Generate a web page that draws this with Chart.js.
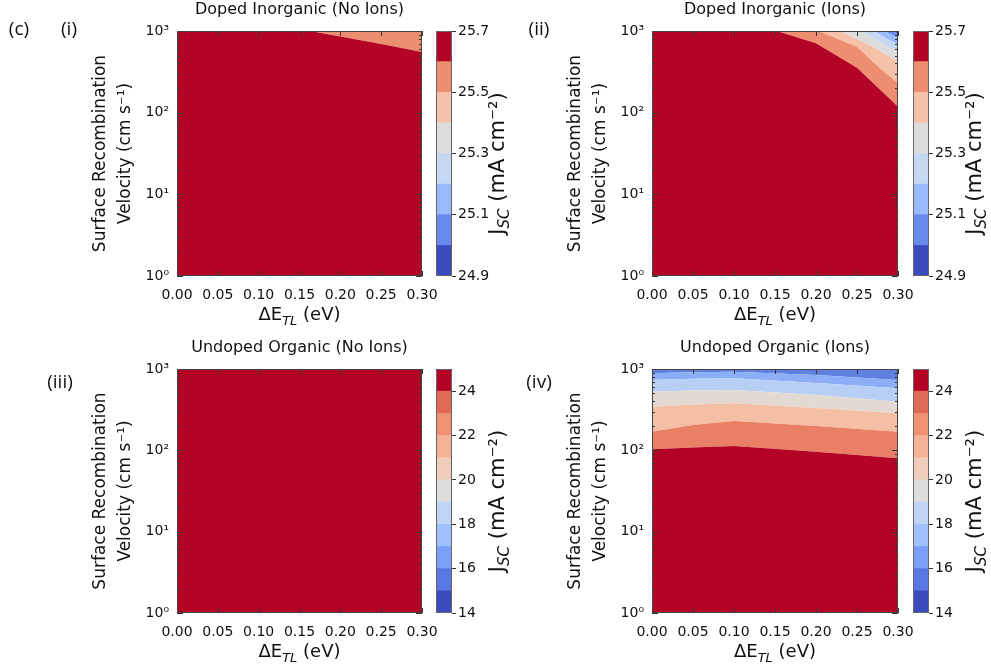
<!DOCTYPE html>
<html>
<head>
<meta charset="utf-8">
<script src="https://cdn.jsdelivr.net/npm/chart.js@4.4.0/dist/chart.umd.min.js"></script>
<style>
html, body { margin: 0; padding: 0; background: #fff; overflow: hidden; }
#figure { position: relative; width: 991px; height: 670px; background: #fff; }
#figure canvas { position: absolute; }
</style>
</head>
<body>
<div id="figure"></div>
<script>
// axes: Delta E_TL (eV) against surface recombination velocity (cm/s, log)
var xTicks = [0, 0.05, 0.10, 0.15, 0.20, 0.25, 0.30];
var xTickLabels = ['0.00', '0.05', '0.10', '0.15', '0.20', '0.25', '0.30'];
var yMajorTicks = [1, 10, 100, 1000];
var yTickLabels = ['10\u2070', '10\u00b9', '10\u00b2', '10\u00b3'];
var yMinorTicks = [2, 3, 4, 5, 6, 7, 8, 9, 20, 30, 40, 50, 60, 70, 80, 90, 200, 300, 400, 500, 600, 700, 800, 900];

// colour bar levels, Jsc in mA cm-2 (bottom to top)
var levelsDoped = [24.9, 25.0, 25.1, 25.2, 25.3, 25.4, 25.5, 25.6, 25.7];
var cbTicksDoped = [24.9, 25.1, 25.3, 25.5, 25.7];
var cbLabelsDoped = ['24.9', '25.1', '25.3', '25.5', '25.7'];
var colorsDoped = ['#3B4CC0', '#6889EE', '#9ABAFF', '#C6D7F2', '#DDDCDC', '#F5C2A9', '#EE8E70', '#B40426'];

var levelsUndoped = [14, 15, 16, 17, 18, 19, 20, 21, 22, 23, 24, 25];
var cbTicksUndoped = [14, 16, 18, 20, 22, 24];
var cbLabelsUndoped = ['14', '16', '18', '20', '22', '24'];
var colorsUndoped = ['#3B4CC0', '#5978E3', '#7B9FF9', '#9FBFFF', '#C0D4F5', '#DDDDDD', '#F0CDBB', '#F5B296', '#F0916F', '#E06A55', '#B40426'];

// contour boundaries as [dE, S] pairs, bottom to top; band k lies between boundary k and k+1
var bottomEdge = [[0, 1], [0.30, 1]];
var topEdge = [[0, 1000], [0.30, 1000]];

var dopedNoIonsEdges = [
	bottomEdge,
	[[0, 1000], [0.163, 1000], [0.20, 857], [0.25, 693], [0.30, 553]],
	topEdge
];
var dopedNoIonsBands = ['#B40426', '#EE8E70'];

var dopedIonsEdges = [
	bottomEdge,
	[[0, 1000], [0.152, 1000], [0.20, 706], [0.25, 355], [0.30, 118]],
	[[0, 1000], [0.203, 1000], [0.25, 643], [0.276, 366], [0.30, 229]],
	[[0, 1000], [0.229, 1000], [0.27, 643], [0.30, 421]],
	[[0, 1000], [0.254, 1000], [0.30, 558]],
	[[0, 1000], [0.270, 1000], [0.30, 674]],
	[[0, 1000], [0.284, 1000], [0.30, 813]],
	[[0, 1000], [0.294, 1000], [0.30, 919]],
	topEdge
];
var dopedIonsBands = ['#B40426', '#EE8E70', '#F5C2A9', '#DDDCDC', '#C6D7F2', '#9ABAFF', '#6889EE', '#3B4CC0'];

var undopedNoIonsEdges = [bottomEdge, topEdge];
var undopedNoIonsBands = ['#B40426'];

var undopedIonsEdges = [
	bottomEdge,
	[[0, 103], [0.05, 108], [0.10, 113], [0.20, 96], [0.30, 80]],
	[[0, 169], [0.05, 205], [0.10, 230], [0.20, 199], [0.30, 169]],
	[[0, 344], [0.05, 365], [0.10, 379], [0.20, 331], [0.30, 285]],
	[[0, 526], [0.05, 545], [0.10, 552], [0.20, 479], [0.30, 396]],
	[[0, 733], [0.05, 760], [0.10, 769], [0.20, 673], [0.30, 579]],
	[[0, 885], [0.05, 915], [0.10, 927], [0.20, 844], [0.30, 733]],
	topEdge
];
var undopedIonsBands = ['#B40426', '#E97F65', '#F4BFA5', '#E2D9D3', '#B8CFF5', '#8DAEF6', '#6080E0'];

Chart.defaults.font.family = "'DejaVu Sans', sans-serif";
Chart.defaults.color = '#111';

var FONT = "'DejaVu Sans', sans-serif";
var figure = document.getElementById('figure');

function addCanvas(left, top, width, height) {
	var c = document.createElement('canvas');
	c.width = width;
	c.height = height;
	c.style.left = left + 'px';
	c.style.top = top + 'px';
	c.style.width = width + 'px';
	c.style.height = height + 'px';
	figure.appendChild(c);
	return c;
}

function partFont(p, size) {
	return (p.italic ? 'italic ' : '') + (p.sub ? Math.round(size * 0.7) : size) + 'px ' + FONT;
}

// draws text made of parts (some subscript), centred on x, baseline at y
function drawRichText(ctx, parts, x, y, size) {
	var total = 0;
	ctx.textAlign = 'left';
	ctx.textBaseline = 'alphabetic';
	parts.forEach(function(p) {
		ctx.font = partFont(p, size);
		p.w = ctx.measureText(p.t).width;
		total += p.w;
	});
	var cx = x - total / 2;
	parts.forEach(function(p) {
		ctx.font = partFont(p, size);
		ctx.fillText(p.t, cx, y + (p.sub ? size * 0.25 : 0));
		cx += p.w;
	});
}

var plotDecor = {
	id: 'plotDecor',
	afterDatasetsDraw: function(chart, args, opts) {
		var ctx = chart.ctx, a = chart.chartArea;
		var xs = chart.scales.x, ys = chart.scales.y;
		
		ctx.save();
		ctx.strokeStyle = '#333';
		ctx.lineWidth = 1;
		ctx.beginPath();
		xTicks.forEach(function(v) {
			var px = Math.round(xs.getPixelForValue(v)) + 0.5;
			ctx.moveTo(px, a.bottom);
			ctx.lineTo(px, a.bottom - 5);
			ctx.moveTo(px, a.top);
			ctx.lineTo(px, a.top + 5);
		});
		yMajorTicks.concat(yMinorTicks).forEach(function(v) {
			var len = yMajorTicks.indexOf(v) >= 0 ? 6 : 3;
			var py = Math.round(ys.getPixelForValue(v)) + 0.5;
			ctx.moveTo(a.left, py);
			ctx.lineTo(a.left + len, py);
			ctx.moveTo(a.right, py);
			ctx.lineTo(a.right - len, py);
		});
		ctx.stroke();
		ctx.strokeStyle = '#444';
		ctx.strokeRect(a.left + 0.5, a.top + 0.5, a.width - 1, a.height - 1);
		
		ctx.fillStyle = '#111';
		
		// panel title
		ctx.font = '16px ' + FONT;
		ctx.textAlign = 'center';
		ctx.textBaseline = 'middle';
		ctx.fillText(opts.title, (a.left + a.right) / 2, a.top - 21);
		
		// y axis title, two lines
		ctx.save();
		ctx.translate(a.left - 76, (a.top + a.bottom) / 2);
		ctx.rotate(-Math.PI / 2);
		ctx.font = '17px ' + FONT;
		ctx.fillText('Surface Recombination', 0, 0);
		ctx.restore();
		ctx.save();
		ctx.translate(a.left - 51, (a.top + a.bottom) / 2);
		ctx.rotate(-Math.PI / 2);
		ctx.font = '17px ' + FONT;
		ctx.fillText('Velocity (cm s\u207b\u00b9)', 0, 0);
		ctx.restore();
		
		// x axis title
		drawRichText(ctx, [{t: '\u0394E'}, {t: 'TL', sub: true, italic: true}, {t: ' (eV)'}], (a.left + a.right) / 2, a.bottom + 44, 18);
		
		// panel tags
		ctx.font = '19px "Open Sans"';
		ctx.textAlign = 'center';
		ctx.textBaseline = 'middle';
		(opts.tags || []).forEach(function(tag) {
			ctx.fillText(tag.t, tag.x, tag.y);
		});
		ctx.restore();
	}
};

var colorbarDecor = {
	id: 'colorbarDecor',
	afterDatasetsDraw: function(chart, args, opts) {
		var ctx = chart.ctx, a = chart.chartArea;
		ctx.save();
		ctx.strokeStyle = '#666';
		ctx.lineWidth = 1;
		ctx.strokeRect(a.left + 0.5, a.top + 0.5, a.width - 1, a.height - 1);
		ctx.fillStyle = '#111';
		ctx.translate(a.right + 44, (a.top + a.bottom) / 2 + 10);
		ctx.rotate(-Math.PI / 2);
		drawRichText(ctx, [{t: 'J'}, {t: 'SC', sub: true, italic: true}, {t: ' (mA cm\u207b\u00b2)'}], 0, 8, 21);
		ctx.restore();
	}
};

function makePlot(p) {
	var left = p.left - 177, top = p.top - 31;
	var width = 177 + p.width + 30, height = 31 + p.height + 56;
	var canvas = addCanvas(left, top, width, height);
	var datasets = [];
	
	p.edges.forEach(function(edge, k) {
		datasets.push({
			data: edge.map(function(pt) { return {x: pt[0], y: pt[1]}; }),
			borderWidth: 0,
			borderColor: 'rgba(0,0,0,0)',
			pointRadius: 0,
			tension: 0,
			backgroundColor: k < p.bands.length ? p.bands[k] : 'rgba(0,0,0,0)',
			fill: k < p.edges.length - 1 ? '+1' : false
		});
	});
	
	return new Chart(canvas, {
		type: 'line',
		data: {datasets: datasets},
		plugins: [plotDecor],
		options: {
			responsive: false,
			animation: false,
			events: [],
			layout: {padding: {left: 137, top: 31, right: 30, bottom: 26}},
			plugins: {
				legend: {display: false},
				tooltip: {enabled: false},
				plotDecor: {
					title: p.title,
					tags: p.tags.map(function(t) { return {t: t.t, x: t.x - left, y: t.y - top}; })
				}
			},
			scales: {
				x: {
					type: 'linear',
					min: 0,
					max: 0.3,
					grid: {display: false, drawTicks: false},
					border: {display: false},
					afterBuildTicks: function(scale) { scale.ticks = xTicks.map(function(v) { return {value: v}; }); },
					afterFit: function(scale) { scale.height = 30; },
					ticks: {
						autoSkip: false,
						maxRotation: 0,
						padding: 11,
						color: '#111',
						font: {size: 14},
						callback: function(value, index) { return xTickLabels[index]; }
					}
				},
				y: {
					type: 'logarithmic',
					min: 1,
					max: 1000,
					grid: {display: false, drawTicks: false},
					border: {display: false},
					afterBuildTicks: function(scale) { scale.ticks = yMajorTicks.map(function(v) { return {value: v}; }); },
					afterFit: function(scale) { scale.width = 40; },
					ticks: {
						autoSkip: false,
						padding: 8,
						color: '#111',
						font: {size: 14},
						callback: function(value, index) { return yTickLabels[index]; }
					}
				}
			}
		}
	});
}

function makeColorbar(c) {
	var left = c.left - 10, top = c.top - 15;
	var canvas = addCanvas(left, top, 100, c.height + 30);
	var datasets = c.colors.map(function(color, k) {
		return {
			data: [[c.levels[k], c.levels[k + 1]]],
			backgroundColor: color,
			borderWidth: 0,
			barPercentage: 1,
			categoryPercentage: 1,
			grouped: false
		};
	});
	
	return new Chart(canvas, {
		type: 'bar',
		data: {labels: [''], datasets: datasets},
		plugins: [colorbarDecor],
		options: {
			responsive: false,
			animation: false,
			events: [],
			layout: {padding: {left: 10, top: 15, right: 0, bottom: 15}},
			plugins: {legend: {display: false}, tooltip: {enabled: false}},
			scales: {
				x: {display: false},
				y: {
					position: 'right',
					min: c.levels[0],
					max: c.levels[c.levels.length - 1],
					grid: {display: true, drawOnChartArea: false, drawTicks: true, tickLength: 4, color: '#333'},
					border: {display: false},
					afterBuildTicks: function(scale) { scale.ticks = c.ticks.map(function(v) { return {value: v}; }); },
					afterFit: function(scale) { scale.width = 74; },
					ticks: {
						autoSkip: false,
						padding: 2,
						color: '#111',
						font: {size: 14},
						callback: function(value, index) { return c.labels[index]; }
					}
				}
			}
		}
	});
}

makePlot({left: 177, top: 31, width: 245, height: 245, title: 'Doped Inorganic (No Ions)',
	edges: dopedNoIonsEdges, bands: dopedNoIonsBands,
	tags: [{t: '(c)', x: 19, y: 30}, {t: '(i)', x: 69, y: 30}]});
makeColorbar({left: 436, top: 31, height: 245, levels: levelsDoped, colors: colorsDoped, ticks: cbTicksDoped, labels: cbLabelsDoped});

makePlot({left: 652, top: 31, width: 246, height: 245, title: 'Doped Inorganic (Ions)',
	edges: dopedIonsEdges, bands: dopedIonsBands,
	tags: [{t: '(ii)', x: 539, y: 30}]});
makeColorbar({left: 913, top: 31, height: 245, levels: levelsDoped, colors: colorsDoped, ticks: cbTicksDoped, labels: cbLabelsDoped});

makePlot({left: 177, top: 369, width: 245, height: 244, title: 'Undoped Organic (No Ions)',
	edges: undopedNoIonsEdges, bands: undopedNoIonsBands,
	tags: [{t: '(iii)', x: 60, y: 383}]});
makeColorbar({left: 436, top: 369, height: 244, levels: levelsUndoped, colors: colorsUndoped, ticks: cbTicksUndoped, labels: cbLabelsUndoped});

makePlot({left: 652, top: 369, width: 246, height: 244, title: 'Undoped Organic (Ions)',
	edges: undopedIonsEdges, bands: undopedIonsBands,
	tags: [{t: '(iv)', x: 539, y: 383}]});
makeColorbar({left: 913, top: 369, height: 244, levels: levelsUndoped, colors: colorsUndoped, ticks: cbTicksUndoped, labels: cbLabelsUndoped});
</script>
</body>
</html>
